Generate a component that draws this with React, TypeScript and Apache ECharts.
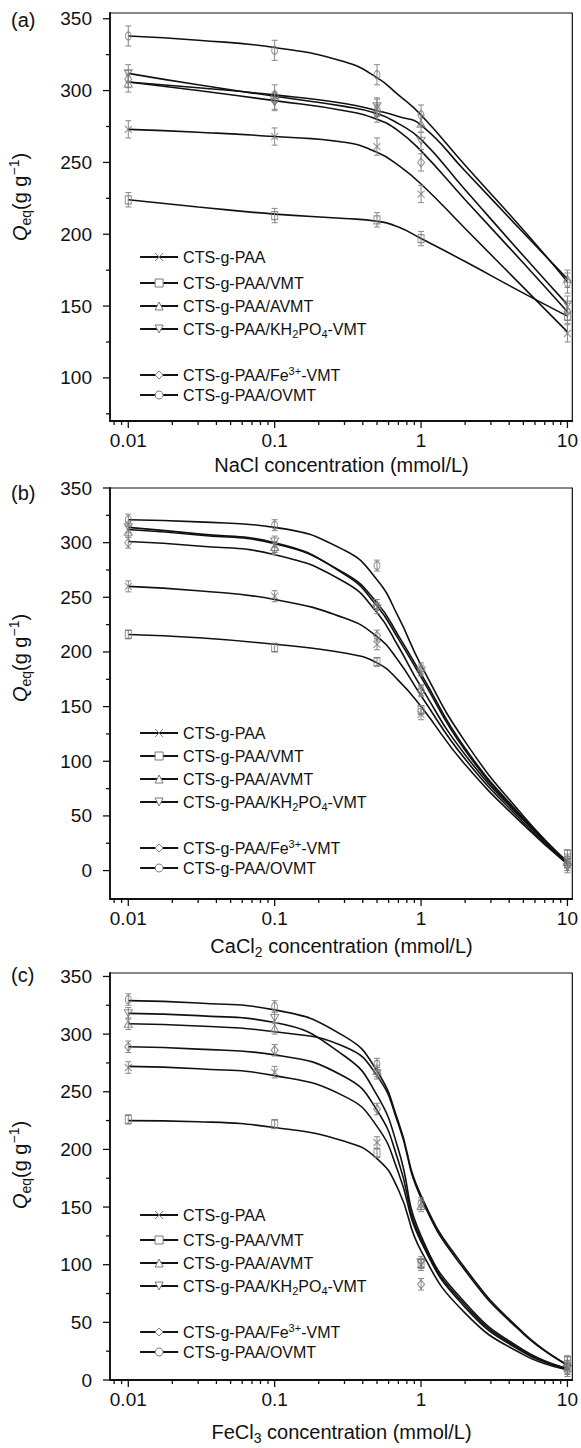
import React, { useEffect, useRef } from 'react';
import * as echarts from 'echarts';

const FONT = '"Liberation Sans", Arial, Helvetica, sans-serif';

const seriesNames = [
  'CTS-g-PAA',
  'CTS-g-PAA/VMT',
  'CTS-g-PAA/AVMT',
  'CTS-g-PAA/KH2PO4-VMT',
  'CTS-g-PAA/Fe3+-VMT',
  'CTS-g-PAA/OVMT',
];
const legendLabels = [
  '{n|CTS-g-PAA}',
  '{n|CTS-g-PAA/VMT}',
  '{n|CTS-g-PAA/AVMT}',
  '{n|CTS-g-PAA/KH}{sub|2}{n|PO}{sub|4}{n|-VMT}',
  '{n|CTS-g-PAA/Fe}{sup|3+}{n|-VMT}',
  '{n|CTS-g-PAA/OVMT}',
];

// measured concentrations (mmol/L)
const pointX = [0.01, 0.1, 0.5, 1, 10];

// ---------- (a) NaCl ----------
const naclPAA = [273, 268, 261, 228, 131];
const naclVMT = [224, 213, 210, 197, 143];
const naclAVMT = [305, 298, 288, 277, 169];
const naclKH = [312, 292, 289, 265, 151];
const naclFe = [308, 293, 284, 250, 146];
const naclOVMT = [338, 328, 311, 283, 166];
const naclErr = [6, 5, 6, 6, 6, 7];

const naclCurveX = [0.01, 0.03, 0.1, 0.3, 0.5, 0.7, 1, 2, 5, 10];
const naclCurvePAA = [273, 271, 268, 264, 257, 248, 235, 204, 163, 132];
const naclCurveVMT = [224, 219, 214, 211, 209, 205, 197, 181, 159, 143];
const naclCurveAVMT = [306, 302, 297, 291, 286, 282, 276, 244, 201, 169];
const naclCurveKH = [312, 304, 296, 289, 284, 277, 266, 231, 185, 151];
const naclCurveFe = [306, 300, 293, 286, 280, 272, 258, 224, 180, 146];
const naclCurveOVMT = [338, 335, 330, 320, 309, 297, 283, 248, 203, 167];

// ---------- (b) CaCl2 ----------
const caclPAA = [260, 251, 207, 143, 5];
const caclVMT = [216, 204, 191, 147, 15];
const caclAVMT = [310, 296, 243, 185, 8];
const caclKH = [314, 301, 240, 183, 3];
const caclFe = [300, 294, 215, 164, 5];
const caclOVMT = [321, 316, 279, 165, 10];
const caclErr = [5, 4, 5, 5, 5, 5];

const caclCurveX = [0.01, 0.03, 0.1, 0.3, 0.5, 0.7, 1, 2, 5, 10];
const caclCurvePAA = [260, 256, 248, 231, 214, 192, 160, 102, 44, 6];
const caclCurveVMT = [216, 213, 207, 199, 190, 174, 150, 97, 42, 6];
const caclCurveAVMT = [312, 307, 299, 272, 245, 215, 180, 112, 48, 7];
const caclCurveKH = [314, 308, 300, 271, 242, 212, 177, 110, 47, 7];
const caclCurveFe = [301, 297, 289, 264, 236, 205, 168, 106, 46, 7];
const caclCurveOVMT = [321, 319, 314, 293, 266, 232, 188, 118, 50, 8];

// ---------- (c) FeCl3 ----------
const feclPAA = [271, 267, 206, 100, 10];
const feclVMT = [226, 222, 197, 101, 17];
const feclAVMT = [309, 305, 268, 151, 15];
const feclKH = [318, 314, 266, 102, 10];
const feclFe = [289, 286, 235, 83, 8];
const feclOVMT = [330, 324, 274, 153, 12];
const feclErr = [5, 4, 5, 5, 5, 5];

const feclCurveX = [0.01, 0.03, 0.1, 0.3, 0.5, 0.7, 1, 2, 5, 10];
const feclCurvePAA = [272, 270, 264, 246, 220, 180, 120, 63, 24, 10];
const feclCurveVMT = [225, 224, 219, 207, 192, 165, 112, 58, 22, 9];
const feclCurveAVMT = [309, 307, 302, 289, 264, 222, 158, 95, 40, 13];
const feclCurveKH = [318, 316, 310, 281, 247, 200, 125, 67, 26, 10];
const feclCurveFe = [289, 287, 282, 263, 234, 190, 122, 65, 25, 10];
const feclCurveOVMT = [329, 327, 321, 298, 268, 224, 160, 97, 41, 13];

// axis ticks
const xMajorTicks = [0.01, 0.1, 1, 10];
const xTickLabels = ['0.01', '0.1', '1', '10'];
const xMinorTicks = [
  0.008, 0.009, 0.02, 0.03, 0.04, 0.05, 0.06, 0.07, 0.08, 0.09,
  0.2, 0.3, 0.4, 0.5, 0.6, 0.7, 0.8, 0.9, 2, 3, 4, 5, 6, 7, 8, 9,
];
const yMajorA = [100, 150, 200, 250, 300, 350];
const yMinorA = [75, 125, 175, 225, 275, 325];
const yMajorB = [0, 50, 100, 150, 200, 250, 300, 350];
const yMinorB = [25, 75, 125, 175, 225, 275, 325];
const yMajorC = [0, 50, 100, 150, 200, 250, 300, 350];
const yMinorC = [25, 75, 125, 175, 225, 275, 325];

const symbols = [
  'path://M0,0L10,10M10,0L0,10',
  'rect',
  'triangle',
  'path://M0,0L10,0L5,9Z',
  'diamond',
  'circle',
];
const symbolSizes = [[7, 7], [6, 8], [8, 7], [8, 7], [7, 9], [6, 8]];

const X_MIN = 0.0075;
const X_MAX = 10.8;
const GRID_LEFT = 110;
const GRID_WIDTH = 463;

const panels = [
  {
    label: '(a)', labelY: 20,
    points: [naclPAA, naclVMT, naclAVMT, naclKH, naclFe, naclOVMT],
    err: naclErr,
    curveX: naclCurveX,
    curves: [naclCurvePAA, naclCurveVMT, naclCurveAVMT, naclCurveKH, naclCurveFe, naclCurveOVMT],
    yMin: 70, yMax: 354, yMajor: yMajorA, yMinor: yMinorA,
    top: 13, bottom: 421,
    yTitleY: 197,
    xTitle: '{n|NaCl concentration (mmol/L)}', xTitleY: 465,
    legendY: [257, 283, 306, 329, 373, 395],
  },
  {
    label: '(b)', labelY: 493,
    points: [caclPAA, caclVMT, caclAVMT, caclKH, caclFe, caclOVMT],
    err: caclErr,
    curveX: caclCurveX,
    curves: [caclCurvePAA, caclCurveVMT, caclCurveAVMT, caclCurveKH, caclCurveFe, caclCurveOVMT],
    yMin: -26, yMax: 350, yMajor: yMajorB, yMinor: yMinorB,
    top: 488, bottom: 899,
    yTitleY: 658,
    xTitle: '{n|CaCl}{sub|2}{n| concentration (mmol/L)}', xTitleY: 946,
    legendY: [733, 756, 779, 802, 846, 868],
  },
  {
    label: '(c)', labelY: 975,
    points: [feclPAA, feclVMT, feclAVMT, feclKH, feclFe, feclOVMT],
    err: feclErr,
    curveX: feclCurveX,
    curves: [feclCurvePAA, feclCurveVMT, feclCurveAVMT, feclCurveKH, feclCurveFe, feclCurveOVMT],
    yMin: 0, yMax: 353, yMajor: yMajorC, yMinor: yMinorC,
    top: 973, bottom: 1380,
    yTitleY: 1165,
    xTitle: '{n|FeCl}{sub|3}{n| concentration (mmol/L)}', xTitleY: 1432,
    legendY: [1215, 1240, 1263, 1286, 1330, 1352],
  },
];

const titleRich = {
  n: { fontSize: 20, fontFamily: FONT, fill: '#111', lineHeight: 26 },
  q: { fontSize: 20, fontFamily: FONT, fontStyle: 'italic', fill: '#111', lineHeight: 26 },
  sub: { fontSize: 14, fontFamily: FONT, fill: '#111', lineHeight: 14, verticalAlign: 'bottom' },
  sup: { fontSize: 14, fontFamily: FONT, fill: '#111', lineHeight: 14, verticalAlign: 'top' },
};

const legendRich = {
  n: { fontSize: 16, fontFamily: FONT, color: '#111', lineHeight: 20 },
  sub: { fontSize: 11, fontFamily: FONT, color: '#111', lineHeight: 11, verticalAlign: 'bottom' },
  sup: { fontSize: 11, fontFamily: FONT, color: '#111', lineHeight: 11, verticalAlign: 'top' },
};

function buildOption() {
  const grid: any[] = [];
  const xAxis: any[] = [];
  const yAxis: any[] = [];
  const series: any[] = [];
  const legend: any[] = [];
  const graphic: any[] = [];

  panels.forEach((p, pi) => {
    grid.push({
      left: GRID_LEFT, width: GRID_WIDTH, top: p.top, height: p.bottom - p.top,
      show: true, borderColor: '#111', borderWidth: 1.2, backgroundColor: 'transparent',
      containLabel: false,
    });
    xAxis.push({
      type: 'log', logBase: 10, gridIndex: pi, min: X_MIN, max: X_MAX,
      axisLine: { show: true, onZero: false, lineStyle: { color: '#111', width: 1.8 } },
      axisTick: { show: false }, minorTick: { show: false },
      splitLine: { show: false }, minorSplitLine: { show: false },
      axisLabel: {
        show: true, margin: 10, fontSize: 19, fontFamily: FONT, color: '#111',
        formatter: (v: number) => {
          const i = xMajorTicks.findIndex((t) => Math.abs(Math.log10(v) - Math.log10(t)) < 1e-6);
          return i >= 0 ? xTickLabels[i] : '';
        },
      },
    });
    yAxis.push({
      type: 'value', gridIndex: pi, min: p.yMin, max: p.yMax, splitNumber: 7,
      axisLine: { show: true, onZero: false, lineStyle: { color: '#111', width: 1.8 } },
      axisTick: { show: false }, splitLine: { show: false },
      axisLabel: {
        show: true, margin: 18, fontSize: 19, fontFamily: FONT, color: '#111',
        formatter: (v: number) => (Math.abs(v / 50 - Math.round(v / 50)) < 1e-9 ? String(Math.round(v)) : ''),
      },
    });

    // fitted curves
    p.curves.forEach((c, s) => {
      series.push({
        type: 'line', name: seriesNames[s], xAxisIndex: pi, yAxisIndex: pi,
        data: p.curveX.map((x, i) => [x, c[i]]),
        smooth: 0.5,
        symbol: symbols[s], symbolSize: 8, showSymbol: false,
        lineStyle: { color: '#111', width: 1.6 },
        itemStyle: { color: '#fff', borderColor: '#777', borderWidth: 1 },
        silent: true, z: 3, clip: false,
      });
    });
    // data markers
    p.points.forEach((vals, s) => {
      series.push({
        type: 'scatter', name: seriesNames[s], xAxisIndex: pi, yAxisIndex: pi,
        data: pointX.map((x, i) => [x, vals[i]]),
        symbol: symbols[s], symbolSize: symbolSizes[s],
        itemStyle: { color: 'rgba(255,255,255,0)', borderColor: '#777', borderWidth: 1.1 },
        silent: true, z: 4,
      });
    });
    // error bars
    const errData: number[][] = [];
    p.points.forEach((vals, s) => {
      vals.forEach((v, i) => errData.push([pointX[i], v - p.err[s], v + p.err[s]]));
    });
    series.push({
      type: 'custom', xAxisIndex: pi, yAxisIndex: pi, silent: true, z: 3.5, clip: false,
      encode: { x: 0, y: [1, 2] },
      data: errData,
      renderItem: (params: any, api: any) => {
        const x = api.value(0);
        const a = api.coord([x, api.value(1)]);
        const b = api.coord([x, api.value(2)]);
        const w = 3;
        const st = { stroke: '#888', lineWidth: 1 };
        return {
          type: 'group',
          children: [
            { type: 'line', shape: { x1: a[0], y1: a[1], x2: b[0], y2: b[1] }, style: st },
            { type: 'line', shape: { x1: a[0] - w, y1: a[1], x2: a[0] + w, y2: a[1] }, style: st },
            { type: 'line', shape: { x1: b[0] - w, y1: b[1], x2: b[0] + w, y2: b[1] }, style: st },
          ],
        };
      },
    });
    // axis ticks (major + minor) drawn through the axes' scales
    const tickData: number[][] = [
      ...xMajorTicks.map((v) => [v, p.yMin, 0]),
      ...xMinorTicks.map((v) => [v, p.yMin, 1]),
      ...p.yMajor.map((v) => [X_MIN, v, 2]),
      ...p.yMinor.map((v) => [X_MIN, v, 3]),
    ];
    series.push({
      type: 'custom', xAxisIndex: pi, yAxisIndex: pi, silent: true, z: 5, clip: false,
      encode: { x: 0, y: 1 },
      data: tickData,
      renderItem: (params: any, api: any) => {
        const kind = api.value(2);
        const pt = api.coord([api.value(0), api.value(1)]);
        const cs = params.coordSys;
        let shape;
        if (kind < 2) {
          const len = kind === 0 ? 7 : 4;
          const y0 = cs.y + cs.height;
          shape = { x1: pt[0], y1: y0, x2: pt[0], y2: y0 + len };
        } else {
          const len = kind === 2 ? 7 : 4;
          shape = { x1: cs.x, y1: pt[1], x2: cs.x - len, y2: pt[1] };
        }
        return { type: 'line', shape, style: { stroke: '#111', lineWidth: 1.3 } };
      },
    });

    // legend, one component per entry to reproduce the spacing
    p.legendY.forEach((ly, s) => {
      legend.push({
        left: 139, top: ly - 8, orient: 'vertical', padding: 0, itemGap: 0,
        itemWidth: 38, itemHeight: 10, selectedMode: false,
        data: [seriesNames[s]],
        formatter: (name: string) => legendLabels[seriesNames.indexOf(name)],
        textStyle: { fontSize: 16, fontFamily: FONT, color: '#111', rich: legendRich },
        itemStyle: { color: '#fff', borderColor: '#777', borderWidth: 1 },
        lineStyle: { color: '#111', width: 2.2 },
      });
    });

    graphic.push({
      type: 'text', x: 11, y: p.labelY,
      style: { text: p.label, fontSize: 20, fontFamily: FONT, fill: '#111', verticalAlign: 'middle', align: 'left' },
    });
    graphic.push({
      type: 'text', x: 20, y: p.yTitleY, rotation: Math.PI / 2,
      style: {
        text: '{q|Q}{sub|eq}{n|(g g}{sup|\u22121}{n|)}', rich: titleRich,
        fontSize: 20, fontFamily: FONT, fill: '#111', align: 'center', verticalAlign: 'middle',
      },
    });
    graphic.push({
      type: 'text', x: GRID_LEFT + GRID_WIDTH / 2, y: p.xTitleY,
      style: {
        text: p.xTitle, rich: titleRich,
        fontSize: 20, fontFamily: FONT, fill: '#111', align: 'center', verticalAlign: 'middle',
      },
    });
  });

  return {
    animation: false,
    backgroundColor: '#fff',
    textStyle: { fontFamily: FONT },
    grid, xAxis, yAxis, series, legend, graphic,
  };
}

export default function App() {
  const ref = useRef<HTMLDivElement>(null);
  useEffect(() => {
    if (!ref.current) return;
    const chart = echarts.init(ref.current, undefined, { renderer: 'svg' });
    chart.setOption(buildOption() as any);
    return () => chart.dispose();
  }, []);
  return (
    <div
      ref={ref}
      style={{ position: 'absolute', left: 0, top: 0, width: 581, height: 1448, background: '#fff' }}
    />
  );
}
